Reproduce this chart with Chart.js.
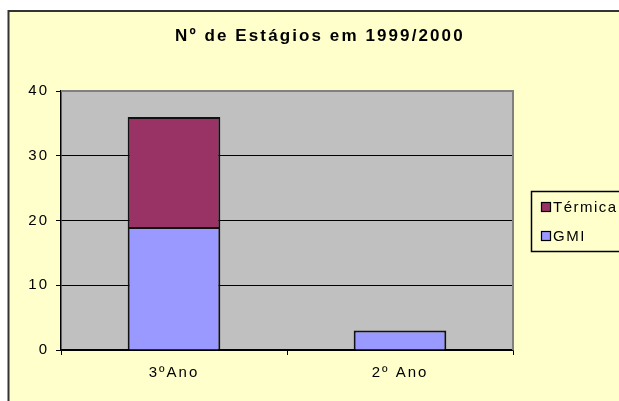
<!DOCTYPE html>
<html>
<head>
<meta charset="utf-8">
<script src="https://cdn.jsdelivr.net/npm/chart.js@4"></script>
<style>
html, body { margin: 0; padding: 0; background: #fff; }
canvas { display: block; }
</style>
</head>
<body>
<canvas id="chart" width="619" height="401"></canvas>
<script>
// Dados do gráfico
const titulo = 'Nº de Estágios em 1999/2000';
const categorias = ['3ºAno', '2º Ano'];
const gmi = [19, 3];
const termica = [17, 0];
const ticksY = [0, 10, 20, 30, 40];

// Cores (estilo Excel antigo)
const corFundo = '#ffffcc';
const corPlot = '#c0c0c0';
const corTermica = '#993366';
const corGmi = '#9999ff';

// Fundo, moldura, título e legenda
const enfeites = {
    id: 'enfeites',
    beforeDraw(chart) {
        const ctx = chart.ctx;
        const a = chart.chartArea;
        ctx.save();
        ctx.fillStyle = '#ffffff';
        ctx.fillRect(0, 0, chart.width, chart.height);
        ctx.fillStyle = corFundo;
        ctx.fillRect(8, 11, chart.width, chart.height);
        ctx.strokeStyle = '#333333';
        ctx.lineWidth = 2;
        ctx.strokeRect(8.5, 11, chart.width + 10, chart.height + 10);
        ctx.fillStyle = corPlot;
        ctx.fillRect(a.left, a.top, a.right - a.left, a.bottom - a.top);
        ctx.restore();
        ctx.letterSpacing = '2px';
    },
    afterDatasetsDraw(chart) {
        const ctx = chart.ctx;
        const a = chart.chartArea;
        ctx.save();
        ctx.strokeStyle = '#808080';
        ctx.lineWidth = 2;
        ctx.beginPath();
        ctx.moveTo(a.left, a.top);
        ctx.lineTo(a.right, a.top);
        ctx.lineTo(a.right, a.bottom);
        ctx.stroke();
        ctx.restore();
    },
    afterDraw(chart) {
        const ctx = chart.ctx;
        ctx.save();
        // título
        ctx.letterSpacing = '2.1px';
        ctx.fillStyle = '#000';
        ctx.font = 'bold 17px Arial, "Liberation Sans", sans-serif';
        ctx.textAlign = 'left';
        ctx.textBaseline = 'alphabetic';
        ctx.fillText(titulo, 175, 41);

        // legenda
        ctx.letterSpacing = '1.5px';
        ctx.fillStyle = corFundo;
        ctx.fillRect(531.5, 191.5, 120, 60);
        ctx.strokeStyle = '#000';
        ctx.lineWidth = 1.5;
        ctx.strokeRect(531.5, 191.5, 120, 60);
        const itens = chart.data.datasets.slice().reverse();
        ctx.font = '15px Arial, "Liberation Sans", sans-serif';
        ctx.textBaseline = 'middle';
        itens.forEach((ds, i) => {
            const cy = 207 + i * 29;
            ctx.fillStyle = ds.backgroundColor;
            ctx.fillRect(541.5, cy - 4.5, 9, 9);
            ctx.lineWidth = 1.2;
            ctx.strokeRect(541.5, cy - 4.5, 9, 9);
            ctx.fillStyle = '#000';
            ctx.fillText(ds.label, 553, cy + 1);
        });
        ctx.restore();
    }
};

Chart.defaults.font.family = 'Arial, "Liberation Sans", sans-serif';
Chart.defaults.font.size = 15;
Chart.defaults.color = '#000';

new Chart(document.getElementById('chart'), {
    type: 'bar',
    data: {
        labels: categorias,
        datasets: [
            {
                label: 'GMI',
                data: gmi,
                backgroundColor: corGmi,
                borderColor: '#111',
                borderWidth: { top: 2, left: 2, right: 2, bottom: 0 },
                borderSkipped: false,
                categoryPercentage: 1,
                barPercentage: 0.41
            },
            {
                label: 'Térmica',
                data: termica,
                backgroundColor: corTermica,
                borderColor: '#111',
                borderWidth: { top: 2, left: 2, right: 2, bottom: 0 },
                borderSkipped: false,
                categoryPercentage: 1,
                barPercentage: 0.41
            }
        ]
    },
    options: {
        responsive: false,
        animation: false,
        layout: { padding: { top: 91, right: 106, bottom: 21, left: 0 } },
        plugins: {
            legend: { display: false },
            title: { display: false },
            tooltip: { enabled: false }
        },
        scales: {
            x: {
                stacked: true,
                afterFit: s => { s.height = 30; },
                grid: {
                    drawOnChartArea: false,
                    drawTicks: true,
                    tickLength: 5,
                    offset: true,
                    color: '#000'
                },
                border: { display: true, color: '#000', width: 1.5 },
                ticks: { padding: 9, color: '#000' }
            },
            y: {
                stacked: true,
                min: ticksY[0],
                max: ticksY[ticksY.length - 1],
                afterBuildTicks: s => { s.ticks = ticksY.map(v => ({ value: v })); },
                afterFit: s => { s.width = 61; },
                grid: {
                    color: c => (c.tick && c.tick.value === ticksY[ticksY.length - 1]) ? '#808080' : '#000',
                    tickColor: '#000',
                    lineWidth: 1,
                    tickLength: 5
                },
                border: { display: true, color: '#000', width: 1.5 },
                ticks: { padding: 7, color: '#000' }
            }
        }
    },
    plugins: [enfeites]
});
</script>
</body>
</html>
